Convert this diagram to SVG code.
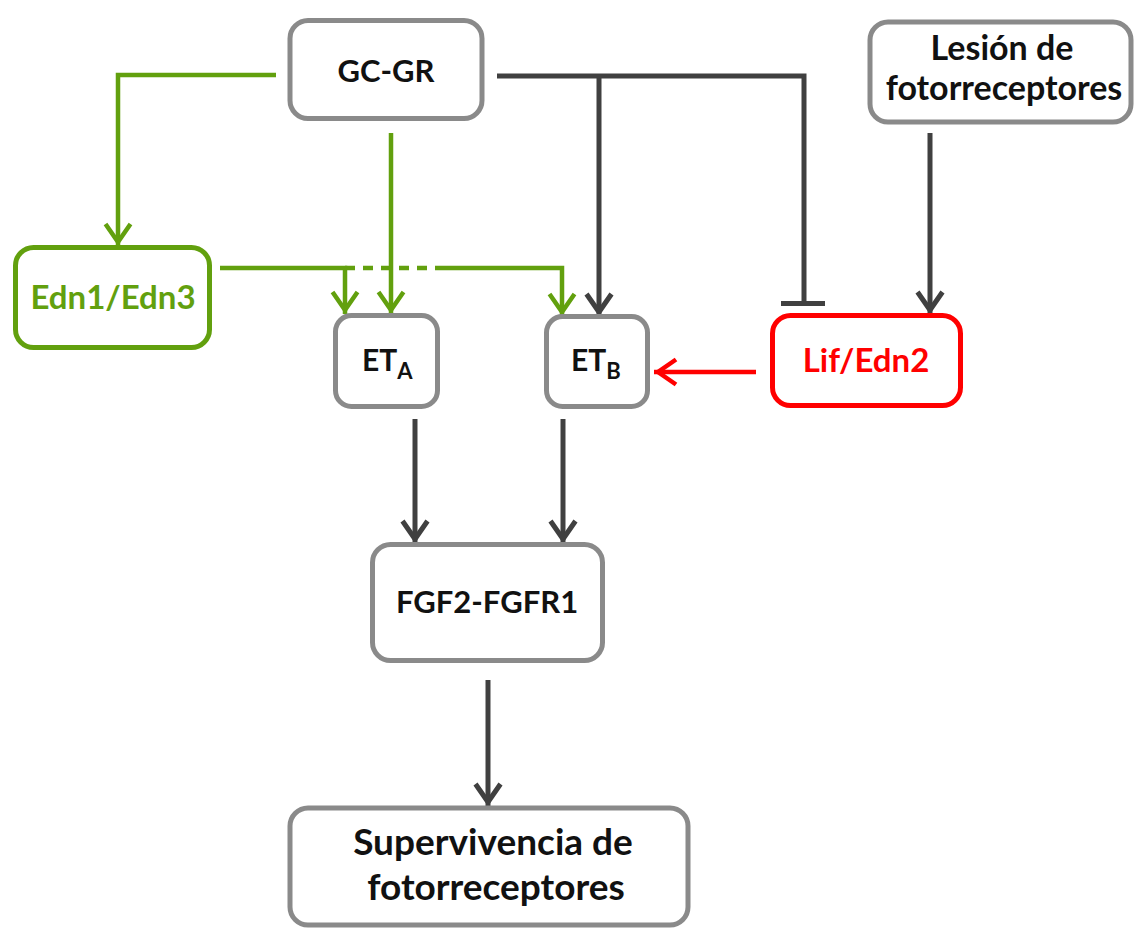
<svg xmlns="http://www.w3.org/2000/svg" width="1135" height="929" viewBox="0 0 1135 929">
<style>
.box{fill:#fff;stroke:#8a8a8a;stroke-width:5}
.gbox{fill:#fff;stroke:#62a00e;stroke-width:5}
.rbox{fill:#fff;stroke:#ff0000;stroke-width:5}
.t{font-family:Lato,"Open Sans",sans-serif;font-weight:bold;fill:#111;text-anchor:middle}
.g{fill:none;stroke:#62a00e;stroke-width:4.5}
.d{fill:none;stroke:#404040;stroke-width:5}
.r{fill:none;stroke:#ff0000;stroke-width:4.5}
</style>
<defs>
<marker id="ag" markerUnits="userSpaceOnUse" markerWidth="40" markerHeight="40" viewBox="-30 -20 40 40" refX="0" refY="0" orient="auto" overflow="visible"><path d="M-22,-12.5 L-4,0 L-22,12.5" fill="none" stroke="#62a00e" stroke-width="4.5"/></marker>
<marker id="ad" markerUnits="userSpaceOnUse" markerWidth="40" markerHeight="40" viewBox="-30 -20 40 40" refX="0" refY="0" orient="auto" overflow="visible"><path d="M-22,-12.5 L-4,0 L-22,12.5" fill="none" stroke="#404040" stroke-width="5"/></marker>
<marker id="ar" markerUnits="userSpaceOnUse" markerWidth="40" markerHeight="40" viewBox="-30 -20 40 40" refX="0" refY="0" orient="auto" overflow="visible"><path d="M-22,-12.5 L-4,0 L-22,12.5" fill="none" stroke="#ff0000" stroke-width="4.5"/></marker>
</defs>
<g id="connectors">
<path class="g" d="M276,75 H118 V246" marker-end="url(#ag)"/>
<path class="g" d="M391,133 V314" marker-end="url(#ag)"/>
<path class="g" d="M220,268 H345 V314" marker-end="url(#ag)"/>
<path class="g" d="M345,268 H437" stroke-dasharray="10 8"/>
<path class="g" d="M437,268 H562 V316" marker-end="url(#ag)"/>
<path class="d" d="M497,76 H804 V302"/>
<path class="d" d="M781,303.5 H825"/>
<path class="d" d="M599,76 V316" marker-end="url(#ad)"/>
<path class="d" d="M930,133 V314" marker-end="url(#ad)"/>
<path class="r" d="M756,372 H654" marker-end="url(#ar)"/>
<path class="d" d="M415,419 V543" marker-end="url(#ad)"/>
<path class="d" d="M563,419 V543" marker-end="url(#ad)"/>
<path class="d" d="M488,680 V806" marker-end="url(#ad)"/>
</g>
<g id="gcgr"><rect class="box" x="290" y="20.5" width="192" height="98" rx="18"/><text class="t" x="386" y="82" font-size="31">GC-GR</text></g>
<g id="lesion"><rect class="box" x="870" y="22" width="261" height="100" rx="18"/><text class="t" x="1002" y="60" font-size="34">Lesión de</text><text class="t" x="1004" y="100" font-size="34">fotorreceptores</text></g>
<g id="edn13"><rect class="gbox" x="15.5" y="247.5" width="194" height="100" rx="18"/><text class="t" x="113" y="309" font-size="33" style="fill:#62a00e">Edn1/Edn3</text></g>
<g id="eta"><rect class="box" x="335.5" y="315.5" width="102" height="91" rx="16"/><text class="t" x="362" y="371" font-size="30" style="text-anchor:start">ET<tspan font-size="22" dy="8">A</tspan></text></g>
<g id="etb"><rect class="box" x="546.5" y="316.5" width="101" height="90" rx="16"/><text class="t" x="571" y="371" font-size="30" style="text-anchor:start">ET<tspan font-size="22" dy="8">B</tspan></text></g>
<g id="lifedn2"><rect class="rbox" x="772.5" y="315.5" width="188" height="90" rx="18"/><text class="t" x="866" y="372" font-size="33" style="fill:#ff0000">Lif/Edn2</text></g>
<g id="fgf"><rect class="box" x="372.5" y="544.5" width="230" height="116" rx="18"/><text class="t" x="487" y="613" font-size="31">FGF2-FGFR1</text></g>
<g id="superv"><rect class="box" x="290" y="808" width="398" height="117" rx="18"/><text class="t" x="493" y="855" font-size="37">Supervivencia de</text><text class="t" x="496" y="900" font-size="37">fotorreceptores</text></g>
</svg>
